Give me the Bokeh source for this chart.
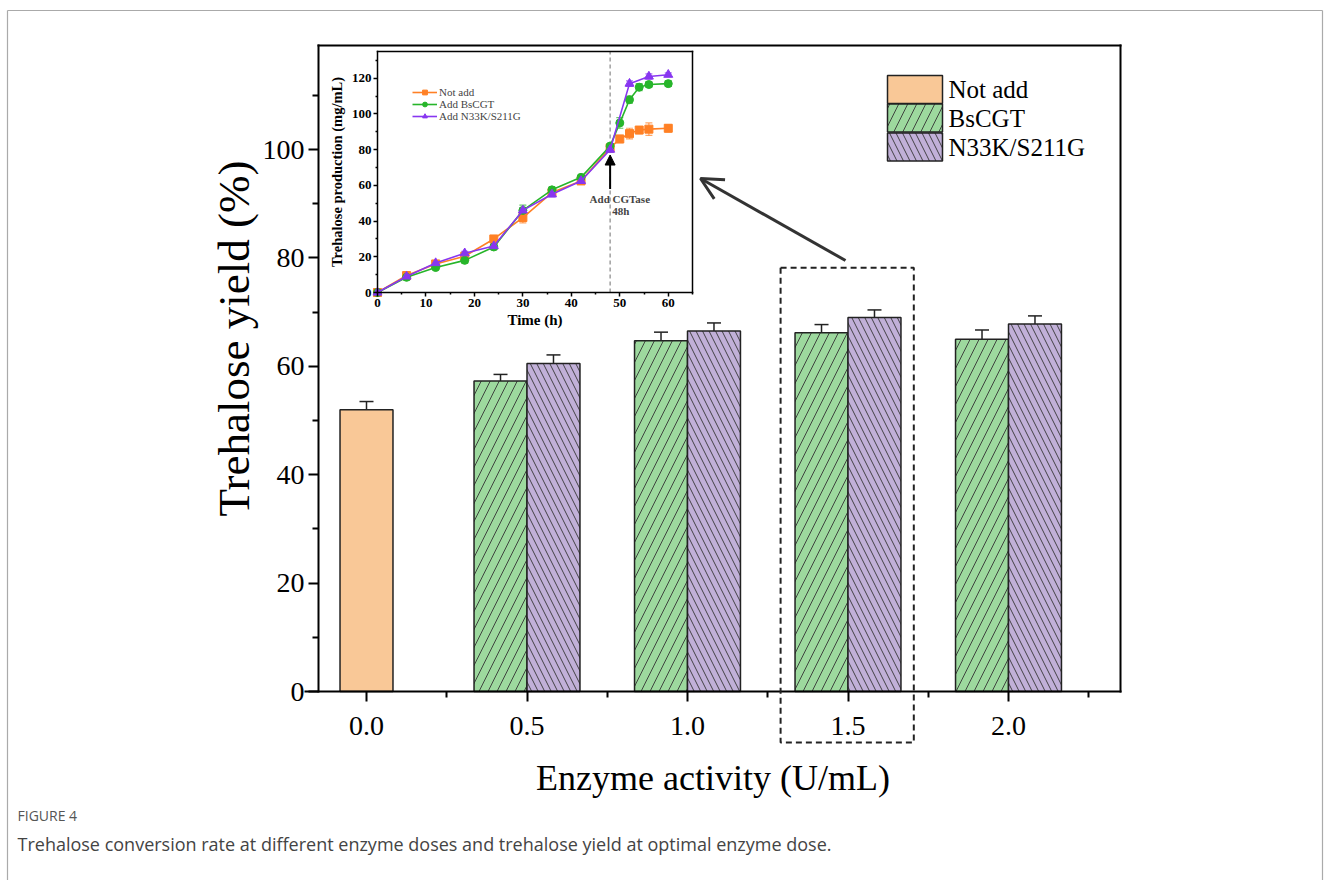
import math
from bokeh.plotting import figure
from bokeh.models import (Range1d, FixedTicker, LinearAxis, Whisker, TeeHead, Arrow,
                          OpenHead, NormalHead, BoxAnnotation, Label, Legend, LegendItem,
                          ColumnDataSource)
from bokeh.core.properties import value
from bokeh.embed import file_html
from bokeh.resources import INLINE

# ---------------- data: main bar chart ----------------
doses = [0.0, 0.5, 1.0, 1.5, 2.0]
dose_labels = ["0.0", "0.5", "1.0", "1.5", "2.0"]
dose_minor = [0.25, 0.75, 1.25, 1.75, 2.25]
yield_ticks = [0, 20, 40, 60, 80, 100]
yield_minor = [10, 30, 50, 70, 90, 110]
notadd_dose = [0.0]
notadd_yield = [52.0]
notadd_err = [1.5]
cgt_dose = [0.5, 1.0, 1.5, 2.0]
bscgt_yield = [57.3, 64.7, 66.2, 65.0]
bscgt_err = [1.2, 1.6, 1.5, 1.7]
n33k_yield = [60.5, 66.5, 69.0, 67.8]
n33k_err = [1.6, 1.5, 1.4, 1.5]
series_names = ["Not add", "BsCGT", "N33K/S211G"]

# ---------------- data: inset time course ----------------
time_ticks = [0, 10, 20, 30, 40, 50, 60]
time_minor = [5, 15, 25, 35, 45, 55, 65]
prod_ticks = [0, 20, 40, 60, 80, 100, 120]
prod_minor = [10, 30, 50, 70, 90, 110, 130]
time_na = [0, 6, 12, 18, 24, 30, 36, 42, 48, 50, 52, 54, 56, 60]
prod_na = [0, 9.5, 16, 20.3, 30, 42, 56, 62.5, 81, 86, 89, 91, 91.5, 92]
err_na = [0.5, 1, 1, 2, 1.5, 3, 1.5, 1.5, 1.5, 2, 3, 2, 3.5, 2]
time_bs = [0, 6, 12, 18, 24, 30, 36, 42, 48, 50, 52, 54, 56, 60]
prod_bs = [0, 8.5, 14, 18, 25.5, 46, 57.5, 64.5, 82, 95, 108, 115, 116.5, 117]
err_bs = [0.5, 1.5, 1, 1.5, 1.5, 3, 1.5, 1, 1, 3, 2, 2, 1.5, 1.5]
time_mu = [0, 6, 12, 18, 24, 30, 36, 42, 48, 52, 56, 60]
prod_mu = [0, 9, 16.5, 22, 26, 46, 55, 62.5, 80, 117, 121, 122]
err_mu = [0.5, 1, 1, 1, 1.5, 1.5, 1.5, 1, 1.5, 1.5, 1.5, 1]
inset_names = ["Not add", "Add BsCGT", "Add N33K/S211G"]
add_time = 48

SERIF = "Liberation Serif"
BAR_W = 0.165
OFF = BAR_W / 2
FILLS = ["#F9C897", "#9DD99E", "#C1B0D8"]
HATCH = [" ", "/", "\\"]
HSCALE = [12, 18, 13]

# ---------------- page geometry (pixels) ----------------
CL, CT, W, H = 0, 0, 1328, 880          # canvas on the page
MX0, MXU, MY0, MYU = 366, 321.0, 691, 5.42
FL, FR, FT = 318, 1120, 45              # main frame left/right/top
IL, IR, IT, IB = 377, 692, 51, 292      # inset frame
T_MAX, V_MAX = 65, 135


def mx(px):
    return (px - MX0) / MXU


def my(py):
    return (MY0 - py) / MYU


ITU = (IR - IL) / T_MAX
IVU = (IB - IT) / V_MAX

p = figure(width=W, height=H,
           x_range=Range1d(mx(CL), mx(CL + W)), y_range=Range1d(my(CT + H), my(CT)),
           output_backend="svg", toolbar_location=None,
           x_axis_location=None, y_axis_location=None,
           min_border=0, min_border_left=0, min_border_right=0,
           min_border_top=0, min_border_bottom=0,
           border_fill_color="white", background_fill_color="white",
           outline_line_color=None)
p.xgrid.visible = False
p.ygrid.visible = False
p.extra_x_ranges = {"ix": Range1d(-(IL - CL) / ITU, T_MAX + (CL + W - IR) / ITU),
                    "px": Range1d(CL, CL + W)}
p.extra_y_ranges = {"iy": Range1d(-(CT + H - IB) / IVU, V_MAX + (IT - CT) / IVU),
                    "py": Range1d(CT + H, CT)}

XL, XR, YT = mx(FL), mx(FR), my(FT)

# ---------------- main bars ----------------
src_na = ColumnDataSource(dict(x=notadd_dose, y=notadd_yield,
                               lo=[a - b for a, b in zip(notadd_yield, notadd_err)],
                               hi=[a + b for a, b in zip(notadd_yield, notadd_err)]))
src_bs = ColumnDataSource(dict(x=[d - OFF for d in cgt_dose], y=bscgt_yield,
                               lo=[a - b for a, b in zip(bscgt_yield, bscgt_err)],
                               hi=[a + b for a, b in zip(bscgt_yield, bscgt_err)]))
src_mu = ColumnDataSource(dict(x=[d + OFF for d in cgt_dose], y=n33k_yield,
                               lo=[a - b for a, b in zip(n33k_yield, n33k_err)],
                               hi=[a + b for a, b in zip(n33k_yield, n33k_err)]))

for i, s in enumerate((src_na, src_bs, src_mu)):
    p.vbar(x="x", top="y", bottom=0, width=BAR_W, source=s, fill_color=FILLS[i],
           line_color="#222222", line_width=1.5,
           hatch_pattern=HATCH[i], hatch_color="#333333",
           hatch_scale=HSCALE[i], hatch_weight=0.9)
    p.add_layout(Whisker(base="x", lower="lo", upper="hi", source=s, line_color="#222222",
                         line_width=1.5,
                         upper_head=TeeHead(size=14, line_width=1.5, line_color="#222222"),
                         lower_head=TeeHead(size=14, line_width=1.5, line_color="#222222")))


def style_axis(a, lab_size, tick_size, bold, lw, tout, mout):
    a.major_label_text_font = SERIF
    a.major_label_text_font_size = tick_size
    a.major_label_text_font_style = "bold" if bold else "normal"
    a.major_label_text_color = "black"
    a.axis_label_text_font = SERIF
    a.axis_label_text_font_size = lab_size
    a.axis_label_text_font_style = "bold" if bold else "normal"
    a.axis_label_text_color = "black"
    a.axis_line_width = lw
    a.axis_line_cap = "square"
    a.major_tick_line_width = lw
    a.minor_tick_line_width = lw
    a.major_tick_out = tout
    a.major_tick_in = 0
    a.minor_tick_out = mout
    a.minor_tick_in = 0


def spine(loc, place, bounds, lw, **kw):
    a = LinearAxis(fixed_location=loc, bounds=bounds, ticker=FixedTicker(ticks=[]),
                   major_tick_out=0, minor_tick_out=0, major_label_text_alpha=0,
                   axis_line_width=lw, axis_line_cap="square", **kw)
    p.add_layout(a, place)


ax = LinearAxis(fixed_location=0, bounds=(mx(305), XR),
                ticker=FixedTicker(ticks=doses, minor_ticks=dose_minor),
                major_label_overrides={d: l for d, l in zip(doses, dose_labels)},
                axis_label="Enzyme activity (U/mL)")
style_axis(ax, "36px", "28px", False, 2, 10, 6)
ax.major_label_standoff = 15
ax.axis_label_standoff = 20
p.add_layout(ax, "below")

ay = LinearAxis(fixed_location=XL, bounds=(0, YT),
                ticker=FixedTicker(ticks=yield_ticks, minor_ticks=yield_minor))
style_axis(ay, "44px", "28px", False, 2, 10, 6)
ay.major_label_standoff = 4
p.add_layout(ay, "left")
p.text(x=[233], y=[338], text=["Trehalose yield (%)"], angle=math.pi / 2,
       x_range_name="px", y_range_name="py", text_font=value(SERIF),
       text_font_size="45px", text_color="black", text_align="center",
       text_baseline="middle")

spine(YT, "above", (XL, XR), 2)
spine(XR, "right", (0, YT), 2)

# main legend (boxes with the bar styles, page pixels)
leg = ColumnDataSource(dict(x=[914.5, 914.5, 914.5], y=[89, 117.5, 146.5],
                            tx=[948, 948, 948], lab=series_names, fill=FILLS,
                            hatch=HATCH, hs=HSCALE))
p.rect(x="x", y="y", width=55, height=28, source=leg, x_range_name="px", y_range_name="py",
       fill_color="fill", line_color="#222222", line_width=1.5, hatch_pattern="hatch",
       hatch_scale="hs", hatch_color="#333333", hatch_weight=0.9)
p.text(x="tx", y="y", text="lab", source=leg, x_range_name="px", y_range_name="py",
       text_font=value(SERIF), text_font_size="25px", text_color="black",
       text_baseline="middle")

# dashed box round the optimal dose and arrow pointing to the inset
p.add_layout(BoxAnnotation(left=1.5 - 0.21, right=1.5 + 0.205, top=78.2, bottom=my(742),
                           fill_alpha=0, line_color="#222222", line_alpha=1, line_width=2,
                           line_dash="6 4"))
p.add_layout(Arrow(x_start=mx(845), y_start=my(260), x_end=mx(700), y_end=my(178),
                   line_color="#333333", line_width=3,
                   end=OpenHead(size=22, line_width=3, line_color="#333333")))

# ---------------- inset ----------------
C_NA, C_BS, C_MU = "#FF8025", "#27B52A", "#8836F0"
p.segment(x0=[add_time], y0=[0], x1=[add_time], y1=[V_MAX], x_range_name="ix",
          y_range_name="iy", line_color="#888888", line_width=1.2, line_dash="4 3")

items = []
for (tt, vv, ee, col, mk, lab) in [(time_na, prod_na, err_na, C_NA, "square", inset_names[0]),
                                    (time_bs, prod_bs, err_bs, C_BS, "circle", inset_names[1]),
                                    (time_mu, prod_mu, err_mu, C_MU, "triangle", inset_names[2])]:
    s = ColumnDataSource(dict(t=tt, v=vv, lo=[a - b for a, b in zip(vv, ee)],
                              hi=[a + b for a, b in zip(vv, ee)]))
    p.add_layout(Whisker(base="t", lower="lo", upper="hi", source=s, line_color=col,
                         x_range_name="ix", y_range_name="iy",
                         line_alpha=0.7, line_width=1.2,
                         upper_head=TeeHead(size=7, line_color=col, line_alpha=0.7, line_width=1.2),
                         lower_head=TeeHead(size=7, line_color=col, line_alpha=0.7, line_width=1.2)))
    rl = p.line("t", "v", source=s, line_color=col, line_width=1.6,
                x_range_name="ix", y_range_name="iy")
    rs = p.scatter("t", "v", source=s, marker=mk, size=8 if mk != "triangle" else 9,
                   fill_color=col, line_color=col, x_range_name="ix", y_range_name="iy")
    items.append(LegendItem(label=lab, renderers=[rl, rs]))

p.add_layout(Legend(items=items, location=(412 - CL, CT + H - 122), padding=0, margin=0,
                    spacing=0, glyph_width=25, glyph_height=12, label_standoff=2,
                    label_text_font=SERIF, label_text_font_size="11px",
                    label_height=12, border_line_color=None, background_fill_alpha=0))

p.add_layout(Arrow(x_start=add_time, y_start=58, x_end=add_time, y_end=77,
                   x_range_name="ix", y_range_name="iy", line_color="black", line_width=2,
                   end=NormalHead(size=10, fill_color="black", line_color="black")))
p.add_layout(Label(x=50, y=52.4, text="Add CGTase", x_range_name="ix", y_range_name="iy",
                   text_font=SERIF, text_font_size="11px", text_font_style="bold",
                   text_align="center", text_baseline="middle"))
p.add_layout(Label(x=50.2, y=45.8, text="48h", x_range_name="ix", y_range_name="iy",
                   text_font=SERIF, text_font_size="11px", text_font_style="bold",
                   text_align="center", text_baseline="middle"))

qx = LinearAxis(x_range_name="ix", y_range_name="iy", fixed_location=0, bounds=(0, T_MAX),
                ticker=FixedTicker(ticks=time_ticks, minor_ticks=time_minor),
                axis_label="Time (h)")
style_axis(qx, "15px", "13px", True, 1.5, 4, 2)
qx.major_label_standoff = 2
qx.axis_label_standoff = 2
p.add_layout(qx, "below")
qy = LinearAxis(x_range_name="ix", y_range_name="iy", fixed_location=0, bounds=(0, V_MAX),
                ticker=FixedTicker(ticks=prod_ticks, minor_ticks=prod_minor),
                axis_label="Trehalose production (mg/mL)")
style_axis(qy, "14.5px", "13px", True, 1.5, 4, 2)
qy.major_label_standoff = 2
qy.axis_label_standoff = 4
p.add_layout(qy, "left")
spine(V_MAX, "above", (0, T_MAX), 1.5, x_range_name="ix", y_range_name="iy")
spine(T_MAX, "right", (0, V_MAX), 1.5, x_range_name="ix", y_range_name="iy")

# ---------------- outer frame and caption (page pixels) ----------------
p.segment(x0=[7, 7, 1322], y0=[10, 10, 10], x1=[1322, 7, 1322], y1=[10, CT + H, CT + H],
          x_range_name="px", y_range_name="py", line_color="#AAAAAA", line_width=1.2)
p.text(x=[17], y=[815], text=["FIGURE 4"], x_range_name="px", y_range_name="py",
       text_font=value("Open Sans"), text_font_size="14px", text_color="#555555",
       text_baseline="middle")
p.text(x=[17], y=[843],
       text=["Trehalose conversion rate at different enzyme doses and trehalose yield at optimal enzyme dose."],
       x_range_name="px", y_range_name="py",
       text_font=value("Open Sans"), text_font_size="18px", text_color="#444444",
       text_baseline="middle")

open("out.html", "w").write(file_html(p, INLINE))
